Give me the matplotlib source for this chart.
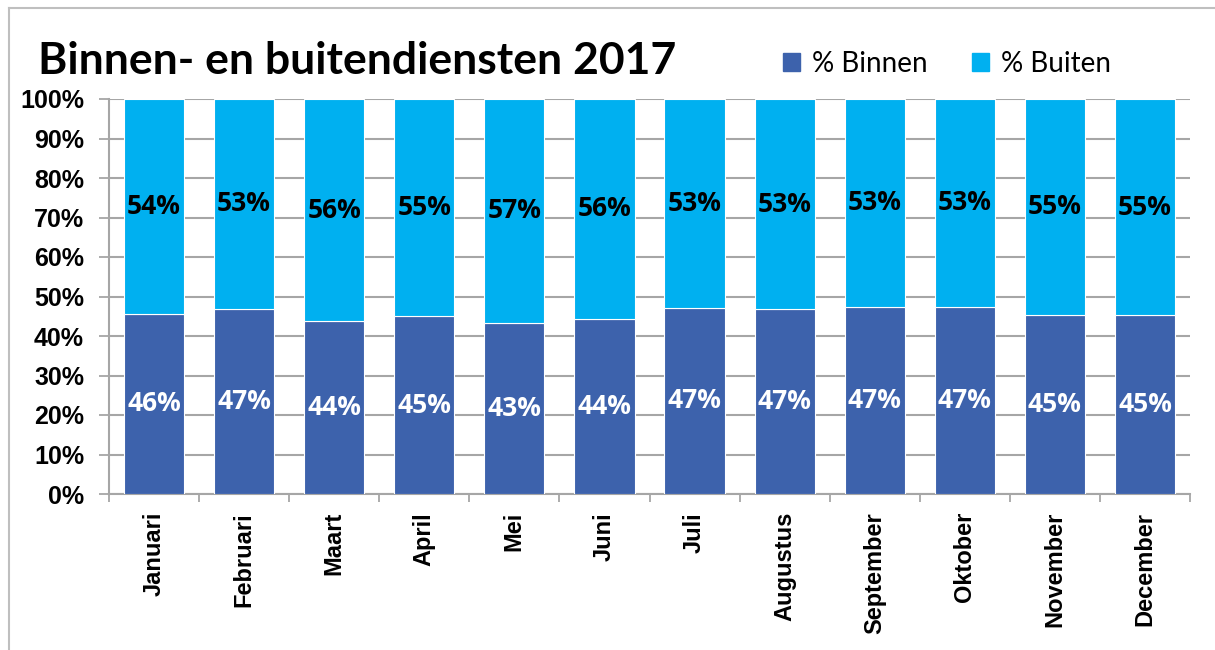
import matplotlib
matplotlib.use('Agg')
import matplotlib.pyplot as plt
from matplotlib.lines import Line2D
from matplotlib.patches import Patch
import numpy as np

## data
maanden = ['Januari', 'Februari', 'Maart', 'April', 'Mei', 'Juni', 'Juli',
           'Augustus', 'September', 'Oktober', 'November', 'December']
binnen = [45.6, 46.9, 43.7, 45.0, 43.4, 44.4, 47.2, 46.8, 47.4, 47.4, 45.4, 45.2]
buiten = [100 - b for b in binnen]
yticks = [0, 10, 20, 30, 40, 50, 60, 70, 80, 90, 100]

donker = '#3D62AC'
licht = '#00B0F0'
grijs = '#A6A6A6'

W, H = 1215, 650
fig = plt.figure(figsize=(W / 100, H / 100), dpi=100)
ax = fig.add_axes([109 / W, 1 - 494 / H, (1190 - 109) / W, (494 - 99) / H])

x = np.arange(len(maanden))
b1 = ax.bar(x, binnen, width=0.667, color=donker, edgecolor='white', linewidth=0.8, zorder=3)
b2 = ax.bar(x, buiten, width=0.667, bottom=binnen, color=licht, edgecolor='white', linewidth=0.8, zorder=3)

ax.bar_label(b1, labels=['%d%%' % round(v) for v in binnen], label_type='center',
             color='white', fontsize=19, fontweight='bold', family='Open Sans')
ax.bar_label(b2, labels=['%d%%' % round(v) for v in buiten], label_type='center',
             color='black', fontsize=19, fontweight='bold', family='Open Sans')

ax.set_xlim(-0.5, len(maanden) - 0.5)
ax.set_ylim(0, 100)
ax.set_yticks(yticks)
ax.set_yticklabels(['%d%%' % t for t in yticks], fontsize=18, fontweight='bold',
                   family='Liberation Sans')
ax.set_xticks(x)
ax.set_xticklabels(maanden, rotation=90, fontsize=17, fontweight='bold',
                   family='Liberation Sans')
ax.set_xticks(np.arange(-0.5, len(maanden), 1), minor=True)

ax.tick_params(axis='x', which='major', length=0, pad=13)
ax.tick_params(axis='x', which='minor', length=6, color=grijs, width=1.3)
ax.tick_params(axis='y', length=7, color=grijs, width=1.3, pad=11)

ax.grid(axis='y', color=grijs, linewidth=1.5, zorder=0)
ax.set_axisbelow(True)
for s in ['top', 'right']:
    ax.spines[s].set_visible(False)
for s in ['left', 'bottom']:
    ax.spines[s].set_color(grijs)
    ax.spines[s].set_linewidth(1.5)

fig.text(38 / W, 1 - 74 / H, 'Binnen- en buitendiensten 2017', fontsize=32,
         fontweight='bold', family='Lato', va='baseline', ha='left')

handles = [Patch(color=donker), Patch(color=licht)]
fig.legend(handles, ['% Binnen', '% Buiten'], loc='center left',
           bbox_to_anchor=(769 / W, 1 - 64 / H), ncol=2, frameon=False,
           prop={'family': 'Lato', 'size': 20}, handlelength=0.6, handleheight=0.6,
           handletextpad=0.45, columnspacing=1.6, borderpad=0)

## chart border
fig.add_artist(Line2D([9 / W, 9 / W], [0, 1 - 8 / H], color='#BFBFBF', linewidth=1.5))
fig.add_artist(Line2D([9 / W, 1], [1 - 8 / H, 1 - 8 / H], color='#BFBFBF', linewidth=1.5))

fig.savefig('out.png', dpi=100)
